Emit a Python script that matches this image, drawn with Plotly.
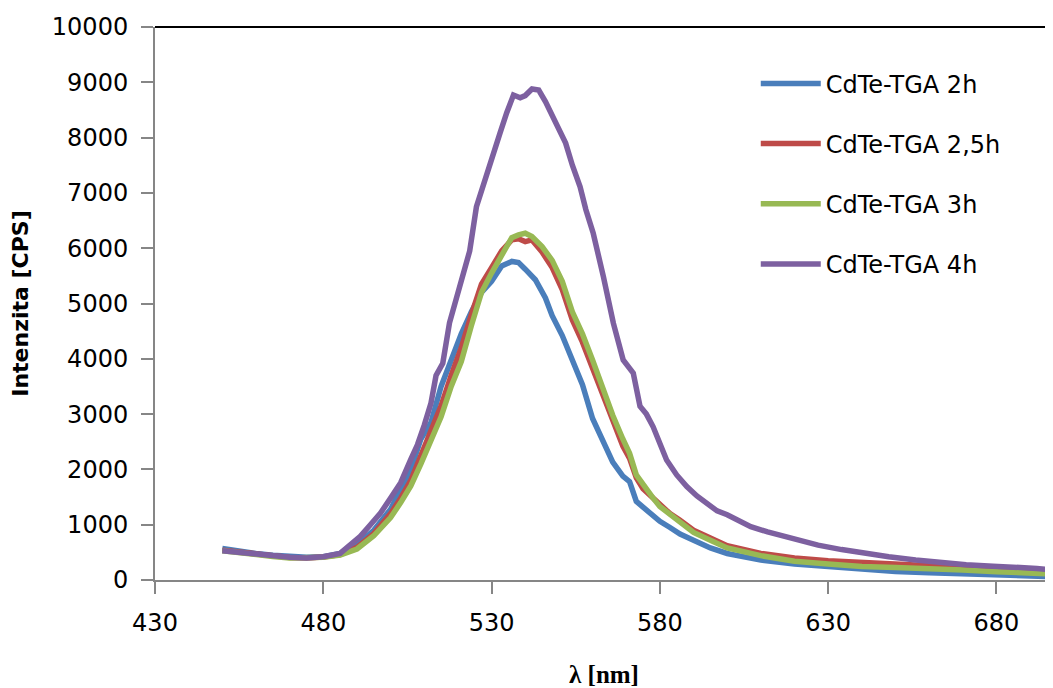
import plotly.graph_objects as go

# ---- data ----
names = ["CdTe-TGA 2h", "CdTe-TGA 2,5h", "CdTe-TGA 3h", "CdTe-TGA 4h"]
colors = ["#4A7EBB", "#BE4B48", "#98B954", "#7D60A0"]

wl_2h = [450, 455, 460, 465, 470, 475, 480, 485, 490, 495, 500, 503, 506, 509, 512, 515, 518, 521, 524, 527,
         530, 533, 536, 538, 540, 543, 546, 548, 551, 554, 557, 560, 563, 566, 569, 571, 573, 575, 577, 580,
         583, 586, 590, 595, 600, 610, 620, 630, 640, 650, 660, 670, 680, 690, 697]
int_2h = [570, 520, 480, 450, 420, 410, 420, 480, 640, 900, 1280, 1620, 2000, 2550, 2850, 3500, 4000, 4450, 4850, 5200,
          5400, 5680, 5760, 5740, 5620, 5430, 5100, 4780, 4420, 3950, 3530, 2920, 2520, 2130, 1880, 1780, 1420, 1320, 1240, 1060,
          950, 830, 720, 580, 480, 360, 290, 240, 190, 155, 130, 105, 90, 75, 60]

wl_25h = [450, 455, 460, 465, 470, 475, 480, 485, 490, 495, 500, 503, 506, 509, 512, 515, 518, 521, 524, 527,
          530, 533, 536, 538, 540, 542, 545, 548, 551, 554, 557, 560, 563, 566, 569, 571, 573, 575, 578, 580,
          583, 586, 590, 595, 600, 610, 620, 630, 640, 650, 660, 670, 680, 690, 697]
int_25h = [540, 500, 460, 430, 405, 400, 415, 460, 590, 840, 1200, 1480, 1800, 2250, 2700, 3150, 3700, 4200, 4800, 5350,
           5650, 5950, 6150, 6170, 6120, 6150, 5930, 5650, 5250, 4700, 4300, 3830, 3330, 2850, 2420, 2200, 1850, 1650, 1480, 1360,
           1200, 1080, 900, 760, 620, 480, 400, 350, 320, 305, 270, 235, 195, 170, 150]

wl_3h = [450, 455, 460, 465, 470, 475, 480, 485, 490, 495, 500, 503, 506, 509, 512, 515, 518, 521, 524, 527,
         530, 533, 536, 538, 540, 542, 545, 548, 551, 554, 557, 560, 563, 566, 569, 571, 573, 575, 578, 580,
         583, 586, 590, 595, 600, 610, 620, 630, 640, 650, 660, 670, 680, 690, 697]
int_3h = [530, 490, 455, 425, 400, 395, 410, 450, 560, 800, 1130, 1400, 1700, 2100, 2550, 2950, 3500, 3950, 4600, 5200,
          5550, 5880, 6190, 6240, 6270, 6210, 6030, 5780, 5400, 4850, 4450, 3980, 3470, 2980, 2550, 2290, 1900, 1720, 1480, 1330,
          1180, 1060, 860, 720, 580, 440, 340, 290, 245, 225, 210, 180, 150, 125, 108]

wl_4h = [450, 455, 460, 465, 470, 475, 480, 485, 488, 491, 494, 497, 500, 503, 506, 508, 510, 512, 513.5, 515.5,
         517.5, 520.5, 523.5, 525.5, 528, 530, 532.5, 534.5, 536.5, 538.5, 540, 542, 544, 546, 548, 550, 552, 554,
         556.3, 558, 560.2, 563.2, 566.2, 569.1, 571, 572.1, 574.1, 576, 578, 580, 582, 585, 588, 591, 594, 597,
         600, 604, 607, 612, 617, 622, 627, 634, 641, 648, 656, 663, 671, 679, 686, 692, 697]
int_4h = [530, 495, 460, 430, 410, 400, 420, 480, 620, 790, 1000, 1210, 1480, 1760, 2180, 2450, 2800, 3200, 3700, 3920,
          4650, 5300, 5950, 6750, 7250, 7600, 8080, 8450, 8770, 8720, 8760, 8880, 8860, 8650, 8380, 8150, 7900, 7500,
          7110, 6700, 6270, 5490, 4640, 3980, 3800, 3740, 3140, 3000, 2770, 2480, 2170, 1900, 1690, 1520, 1390, 1250,
          1180, 1050, 965, 870, 785, 700, 630, 550, 480, 420, 360, 315, 275, 250, 240, 210, 180]

series_x = [wl_2h, wl_25h, wl_3h, wl_4h]
series_y = [int_2h, int_25h, int_3h, int_4h]

x_ticks = [430, 480, 530, 580, 630, 680]
y_ticks = [0, 1000, 2000, 3000, 4000, 5000, 6000, 7000, 8000, 9000, 10000]

# ---- figure ----
fig = go.Figure()
for i in range(4):
    fig.add_trace(go.Scatter(
        x=series_x[i], y=series_y[i], name=names[i], mode="lines",
        line=dict(color=colors[i], width=5.5, shape="linear"),
        legendgroup=names[i],
    ))

axis_gray = "#868686"
tick_font = dict(family="DejaVu Sans", size=24, color="#000000")

fig.update_layout(
    width=1045, height=680,
    margin=dict(l=147, r=0, t=19, b=108),
    paper_bgcolor="white", plot_bgcolor="white",
    showlegend=True,
    legend=dict(
        x=0.669, y=0.938, xanchor="left", yanchor="top",
        font=dict(family="DejaVu Sans", size=24, color="#000000"),
        bgcolor="rgba(0,0,0,0)", tracegroupgap=26, itemwidth=60,
    ),
    xaxis=dict(
        range=[430, 696.8], tickvals=x_ticks, ticktext=[str(v) for v in x_ticks],
        showgrid=False, zeroline=False,
        showline=True, linecolor=axis_gray, linewidth=2,
        ticks="outside", ticklen=12, tickwidth=2, tickcolor=axis_gray,
        tickfont=tick_font, ticklabelstandoff=8,
        title=dict(text="<b>λ [nm]</b>", font=dict(family="Liberation Serif", size=25, color="#000000"), standoff=30),
    ),
    yaxis=dict(
        range=[0, 10000], tickvals=y_ticks, ticktext=[str(v) for v in y_ticks],
        showgrid=False, zeroline=False,
        showline=True, linecolor=axis_gray, linewidth=2,
        ticks="outside", ticklen=12, tickwidth=2, tickcolor=axis_gray,
        tickfont=tick_font, ticklabelstandoff=8,
        title=dict(text="<b>Intenzita [CPS]</b>", font=dict(family="DejaVu Sans", size=22, color="#000000"), standoff=17),
    ),
    shapes=[dict(type="line", xref="paper", yref="paper", x0=0, x1=1, y0=1, y1=1,
                 line=dict(color="#000000", width=2))],
)

fig.write_html("out.html")
